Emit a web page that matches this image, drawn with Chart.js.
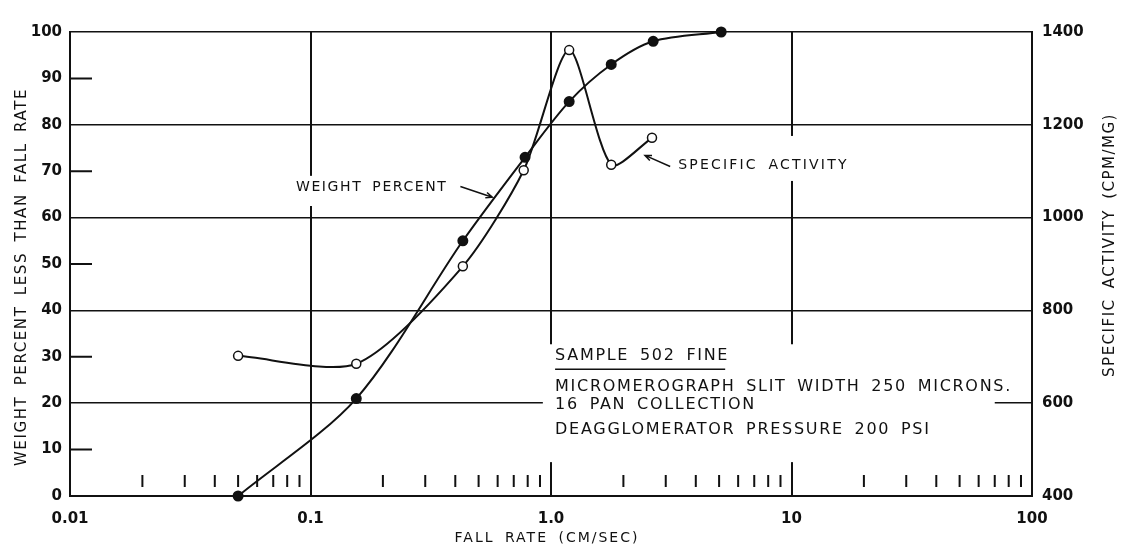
<!DOCTYPE html>
<html>
<head>
<meta charset="utf-8">
<script src="https://cdn.jsdelivr.net/npm/chart.js@4.4.1/dist/chart.umd.min.js"></script>
<style>
  html, body { margin: 0; padding: 0; background: #fff; }
  #wrap { width: 1124px; height: 548px; }
</style>
</head>
<body>
<div id="wrap"><canvas id="chart" width="1124" height="548"></canvas></div>
<script>
// Valores (fall rate en cm/sec)
const fallRateWeight = [0.05, 0.155, 0.43, 0.78, 1.19, 1.78, 2.66, 5.1];
const weightPercent = [0, 21, 55, 73, 85, 93, 98, 100];
const fallRateActivity = [0.05, 0.155, 0.43, 0.77, 1.19, 1.78, 2.63];
const specificActivity = [702, 685, 895, 1102, 1361, 1114, 1172];

const xTickValues = [0.01, 0.1, 1, 10, 100];
const xTickLabels = ['0.01', '0.1', '1.0', '10', '100'];
const rightTickValues = [400, 600, 800, 1000, 1200, 1400];
const rightTickLabels = ['400', '600', '800', '1000', '1200', '1400'];

const INK = '#111';
const FONT = '"DejaVu Sans", sans-serif';

function label(ctx, s, x, y, size, spacing, align) {
    ctx.font = size + 'px ' + FONT;
    ctx.letterSpacing = spacing + 'px';
    ctx.wordSpacing = '4px';
    ctx.textAlign = align || 'left';
    ctx.textBaseline = 'middle';
    ctx.fillStyle = INK;
    ctx.fillText(s, x, y);
}

function arrow(ctx, x0, y0, x1, y1) {
    const ang = Math.atan2(y1 - y0, x1 - x0);
    ctx.beginPath();
    ctx.moveTo(x0, y0); ctx.lineTo(x1, y1);
    ctx.moveTo(x1 - 7 * Math.cos(ang - 0.4), y1 - 7 * Math.sin(ang - 0.4));
    ctx.lineTo(x1, y1);
    ctx.lineTo(x1 - 7 * Math.cos(ang + 0.4), y1 - 7 * Math.sin(ang + 0.4));
    ctx.stroke();
}

// Marcas menores, huecos de la rejilla y rótulos impresos dentro del gráfico
const extras = {
    id: 'extras',
    beforeDatasetsDraw(chart) {
        const { ctx, chartArea: a, scales: { x, y } } = chart;
        const px = v => x.getPixelForValue(v), py = v => y.getPixelForValue(v);
        ctx.save();
        ctx.fillStyle = '#fff';
        [[0.085, 69, 0.4, 62.5], [3.2, 77.6, 25, 67.9], [0.925, 32.7, 70, 7.3]].forEach(([x0, y0, x1, y1]) => {
            ctx.fillRect(px(x0), py(y0), px(x1) - px(x0), py(y1) - py(y0));
        });

        ctx.strokeStyle = INK;
        ctx.lineWidth = 2;
        ctx.beginPath();
        [10, 30, 50, 70, 90].forEach(v => { ctx.moveTo(a.left, py(v)); ctx.lineTo(a.left + 22, py(v)); });
        [0.01, 0.1, 1, 10].forEach(d => {
            for (let m = 2; m <= 9; m++) { ctx.moveTo(px(m * d), a.bottom - 21); ctx.lineTo(px(m * d), a.bottom - 9); }
        });
        ctx.stroke();

        ctx.lineWidth = 1.5;
        label(ctx, 'WEIGHT PERCENT', px(0.087), py(66.6), 14, 1.6);
        arrow(ctx, px(0.42), py(66.7), px(0.57), py(64.4));
        label(ctx, 'SPECIFIC ACTIVITY', px(3.38), py(71.2), 14, 2.2);
        arrow(ctx, px(3.13), py(71.0), px(2.46), py(73.4));

        label(ctx, 'SAMPLE 502 FINE', px(1.04), py(30.1), 16, 1.7);
        ctx.beginPath(); ctx.moveTo(px(1.04), py(27.3)); ctx.lineTo(px(5.3), py(27.3)); ctx.stroke();
        label(ctx, 'MICROMEROGRAPH SLIT WIDTH 250 MICRONS.', px(1.04), py(23.6), 16, 1.7);
        label(ctx, '16 PAN COLLECTION', px(1.04), py(19.6), 16, 1.7);
        label(ctx, 'DEAGGLOMERATOR PRESSURE 200 PSI', px(1.04), py(14.2), 16, 1.7);
        ctx.restore();
    },
    afterDraw(chart) {
        const { ctx, chartArea: a } = chart;
        ctx.save();
        label(ctx, 'FALL RATE (CM/SEC)', (a.left + a.right) / 2 - 4, 538, 14, 2, 'center');
        ctx.translate(22, 277); ctx.rotate(-Math.PI / 2);
        label(ctx, 'WEIGHT PERCENT LESS THAN FALL RATE', 0, 0, 15, 1.6, 'center');
        ctx.setTransform(1, 0, 0, 1, 0, 0);
        ctx.translate(1110, 245); ctx.rotate(-Math.PI / 2);
        label(ctx, 'SPECIFIC ACTIVITY (CPM/MG)', 0, 0, 15, 1.5, 'center');
        ctx.restore();
    }
};

document.addEventListener('DOMContentLoaded', function() {
    const tickFont = { family: FONT, size: 15, weight: 'bold' };
    new Chart(document.getElementById('chart'), {
        type: 'scatter',
        data: {
            datasets: [
                { label: 'Weight percent', data: fallRateWeight.map((v, i) => ({ x: v, y: weightPercent[i] })), yAxisID: 'y',
                  showLine: true, tension: 0.3, borderColor: INK, borderWidth: 2, clip: false,
                  pointRadius: 4.5, pointBackgroundColor: INK, pointBorderColor: INK },
                { label: 'Specific activity', data: fallRateActivity.map((v, i) => ({ x: v, y: specificActivity[i] })), yAxisID: 'y2',
                  showLine: true, tension: 0.25, borderColor: INK, borderWidth: 2, clip: false,
                  pointRadius: 4.5, pointBackgroundColor: '#fff', pointBorderColor: INK, pointBorderWidth: 1.5 }
            ]
        },
        options: {
            responsive: false, animation: false,
            layout: { padding: { top: 32 } },
            plugins: { legend: { display: false }, tooltip: { enabled: false } },
            scales: {
                x: {
                    type: 'logarithmic', min: 0.01, max: 100,
                    afterBuildTicks: s => { s.ticks = xTickValues.map(v => ({ value: v })); },
                    afterFit: s => { s.height = 52; },
                    ticks: { color: INK, font: tickFont, padding: 14, maxRotation: 0, autoSkip: false,
                             callback: (v, i) => xTickLabels[i] },
                    grid: { drawTicks: false, lineWidth: 2,
                            color: c => (c.tick && [0.1, 1, 10].includes(c.tick.value)) ? INK : 'transparent' },
                    border: { display: true, color: INK, width: 2 }
                },
                y: {
                    position: 'left', min: 0, max: 100,
                    afterFit: s => { s.width = 70; },
                    ticks: { stepSize: 10, color: INK, font: tickFont, padding: 8 },
                    grid: { drawTicks: false, lineWidth: 1.5,
                            color: c => (c.tick && [20, 40, 60, 80, 100].includes(c.tick.value)) ? INK : 'transparent' },
                    border: { display: true, color: INK, width: 2 }
                },
                y2: {
                    position: 'right', min: 400, max: 1400,
                    afterFit: s => { s.width = 92; },
                    afterBuildTicks: s => { s.ticks = rightTickValues.map(v => ({ value: v })); },
                    ticks: { color: INK, font: tickFont, padding: 10,
                             callback: (v, i) => rightTickLabels[i] },
                    grid: { display: false, drawTicks: false },
                    border: { display: true, color: INK, width: 2 }
                }
            }
        },
        plugins: [extras]
    });
});
</script>
</body>
</html>
